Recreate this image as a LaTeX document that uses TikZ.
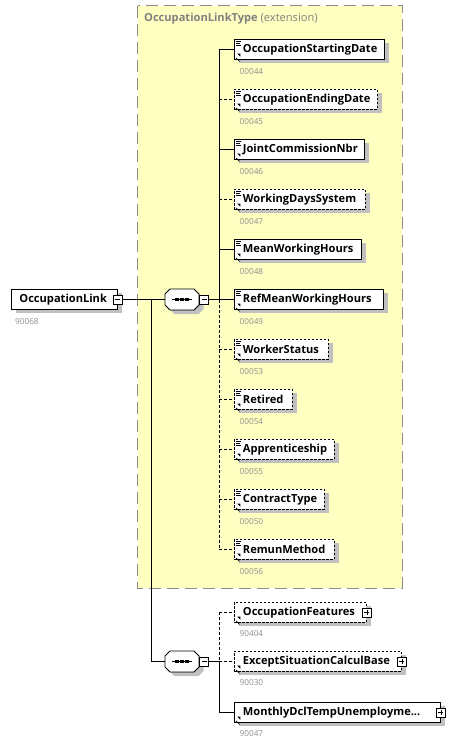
\documentclass[tikz,border=0pt]{standalone}
\usepackage{fontspec}
\setmainfont{Open Sans}
\usetikzlibrary{shadows}
\definecolor{ybg}{HTML}{FFFFC2}
\definecolor{lblgray}{HTML}{8C8C8C}
\definecolor{shd}{HTML}{C0C0C0}
\tikzset{
  shd/.style={drop shadow={shadow xshift=4.5pt,shadow yshift=-4pt,fill=shd,draw=none,opacity=1}},
  elem/.style={draw=black,line width=0.9pt,fill=white,minimum height=20pt,inner xsep=0pt,inner ysep=0pt,
    anchor=north west,align=left,font=\bfseries\fontsize{11.1}{13}\selectfont,shd},
  opt/.style={dash pattern=on 2.5pt off 1.5pt},
  lbl/.style={anchor=west,text=lblgray,font=\fontsize{8.2}{9}\selectfont,inner sep=0pt},
  conn/.style={line width=0.9pt},
  optconn/.style={line width=0.9pt,dash pattern=on 3pt off 2pt},
  pm/.style={draw=black,line width=0.7pt,fill=white,minimum size=9pt,inner sep=0pt},
  compbox/.style={minimum width=34pt,minimum height=21pt,inner sep=0pt},
}
\newcommand{\minussign}[1]{\draw[line width=0.7pt] ([xshift=-2.5pt]#1.center) -- ([xshift=2.5pt]#1.center);}
\newcommand{\plussign}[1]{\draw[line width=0.7pt] ([xshift=-2.5pt]#1.center) -- ([xshift=2.5pt]#1.center)
  ([yshift=-2.5pt]#1.center) -- ([yshift=2.5pt]#1.center);}
\newcommand{\octpath}[1]{([xshift=-12pt,yshift=10.5pt]#1.center) -- ([xshift=12pt,yshift=10.5pt]#1.center)
  -- ([xshift=17pt,yshift=5.5pt]#1.center) -- ([xshift=17pt,yshift=-5.5pt]#1.center)
  -- ([xshift=12pt,yshift=-10.5pt]#1.center) -- ([xshift=-12pt,yshift=-10.5pt]#1.center)
  -- ([xshift=-17pt,yshift=-5.5pt]#1.center) -- ([xshift=-17pt,yshift=5.5pt]#1.center) -- cycle}
\newcommand{\compositor}[1]{%
  \fill[shd,xshift=4.5pt,yshift=-4pt] \octpath{#1};
  \draw[line width=0.9pt,fill=white] \octpath{#1};
  \draw[line width=0.9pt] ([xshift=-10pt]#1.center) -- ([xshift=10pt]#1.center);
  \foreach \dx in {-5,0,5}{\fill ([xshift=\dx pt-1.6pt,yshift=-1.6pt]#1.center) rectangle ([xshift=\dx pt+1.6pt,yshift=1.6pt]#1.center);}}
\newcommand{\icons}[2]{%
  \ifnum#2=1
  \draw[line width=0.6pt] ([xshift=2pt,yshift=-2.2pt]#1.north west) -- ++(5pt,0)
    ([xshift=2pt,yshift=-4.2pt]#1.north west) -- ++(4pt,0)
    ([xshift=2pt,yshift=-6.2pt]#1.north west) -- ++(5pt,0);
  \fi
  \draw[line width=0.8pt] ([xshift=2pt,yshift=2pt]#1.south west) -- ++(3.5pt,-3.5pt);
  \fill ([xshift=6.3pt,yshift=6.3pt]#1.south west) -- ++(-3pt,0) -- ++(3pt,-3pt) -- cycle;}
\begin{document}
\begin{tikzpicture}[x=1pt,y=-1pt]
\useasboundingbox (0,0) rectangle (466,744);
% extension box
\draw[draw=gray!90,fill=ybg,line width=0.9pt,dash pattern=on 12pt off 6pt] (137.5,5.5) rectangle (402,588);
\node[anchor=west,inner sep=0pt,text=gray,font=\fontsize{11.1}{13}\selectfont] (title) at (144,19) {\textbf{OccupationLinkType} (extension)};

% root element
\node[elem,text width=106pt] (root) at (11,289) {\hspace*{8pt}OccupationLink};
\node[lbl] (rootlbl) at (15,322) {90068};
\node[pm] (rootm) at (root.east) {};
\minussign{rootm}

% top sequence
\node[compbox] (seq1) at (182,299.5) {};
\compositor{seq1}
\node[pm] (seq1m) at (204,299.5) {};
\minussign{seq1m}
\coordinate (j1) at (219,299.5);

% bottom sequence
\node[compbox] (seq2) at (182,661.5) {};
\compositor{seq2}
\node[pm] (seq2m) at (204,661.5) {};
\minussign{seq2m}
\coordinate (j2) at (219,661.5);
\coordinate (j0) at (151,299.5);

\draw[conn] (rootm.east) -- (seq1.west);
\draw[conn] (j0) |- (seq2.west);
\draw[conn] (seq1m.east) -- (j1);
\draw[conn] (seq2m.east) -- (j2);

% children of first sequence
\foreach \i/\nm/\w/\o/\code in {
  0/OccupationStartingDate/150/0/00044,
  1/OccupationEndingDate/143/1/00045,
  2/JointCommissionNbr/130/0/00046,
  3/WorkingDaysSystem/131/1/00047,
  4/MeanWorkingHours/127/0/00048,
  5/RefMeanWorkingHours/149/0/00049,
  6/WorkerStatus/94/1/00053,
  7/Retired/58/1/00054,
  8/Apprenticeship/100/1/00055,
  9/ContractType/90/1/00050,
  10/RemunMethod/100/1/00056}{
  \ifnum\o=1
    \node[elem,opt,text width=\w pt] (e\i) at (234,39+50*\i) {\hspace*{8.5pt}\nm};
    \draw[optconn] (j1 |- e\i.west) -- (e\i.west);
  \else
    \node[elem,text width=\w pt] (e\i) at (234,39+50*\i) {\hspace*{8.5pt}\nm};
    \draw[conn] (j1 |- e\i.west) -- (e\i.west);
  \fi
  \icons{e\i}{1}
  \node[lbl] (c\i) at (239.5,72+50*\i) {\code};
}
\draw[conn] (j1 |- e0.west) -- (j1);
\draw[optconn] (j1) -- (j1 |- e10.west);

% children of second sequence
\node[elem,opt,text width=132pt] (f1) at (234,602) {\hspace*{8.5pt}OccupationFeatures};
\node[elem,opt,text width=167pt] (f2) at (234,651) {\hspace*{8.5pt}ExceptSituationCalculBase};
\node[elem,text width=206pt] (f3) at (234,702) {\hspace*{8.5pt}MonthlyDclTempUnemployme...};
\foreach \k in {1,2,3}{\icons{f\k}{0}}
\node[pm] (f1p) at (f1.east) {}; \plussign{f1p}
\node[pm] (f2p) at (f2.east) {}; \plussign{f2p}
\node[pm] (f3p) at (f3.east) {}; \plussign{f3p}
\node[lbl] (f1l) at (239.5,634) {90404};
\node[lbl] (f2l) at (239.5,683) {90030};
\node[lbl] (f3l) at (239.5,734) {90047};
\draw[optconn] (j2 |- f1.west) -- (f1.west);
\draw[optconn] (j2) -- (f2.west);
\draw[conn] (j2) |- (f3.west);
\draw[optconn] (j2 |- f1.west) -- (j2);
\end{tikzpicture}
\end{document}
